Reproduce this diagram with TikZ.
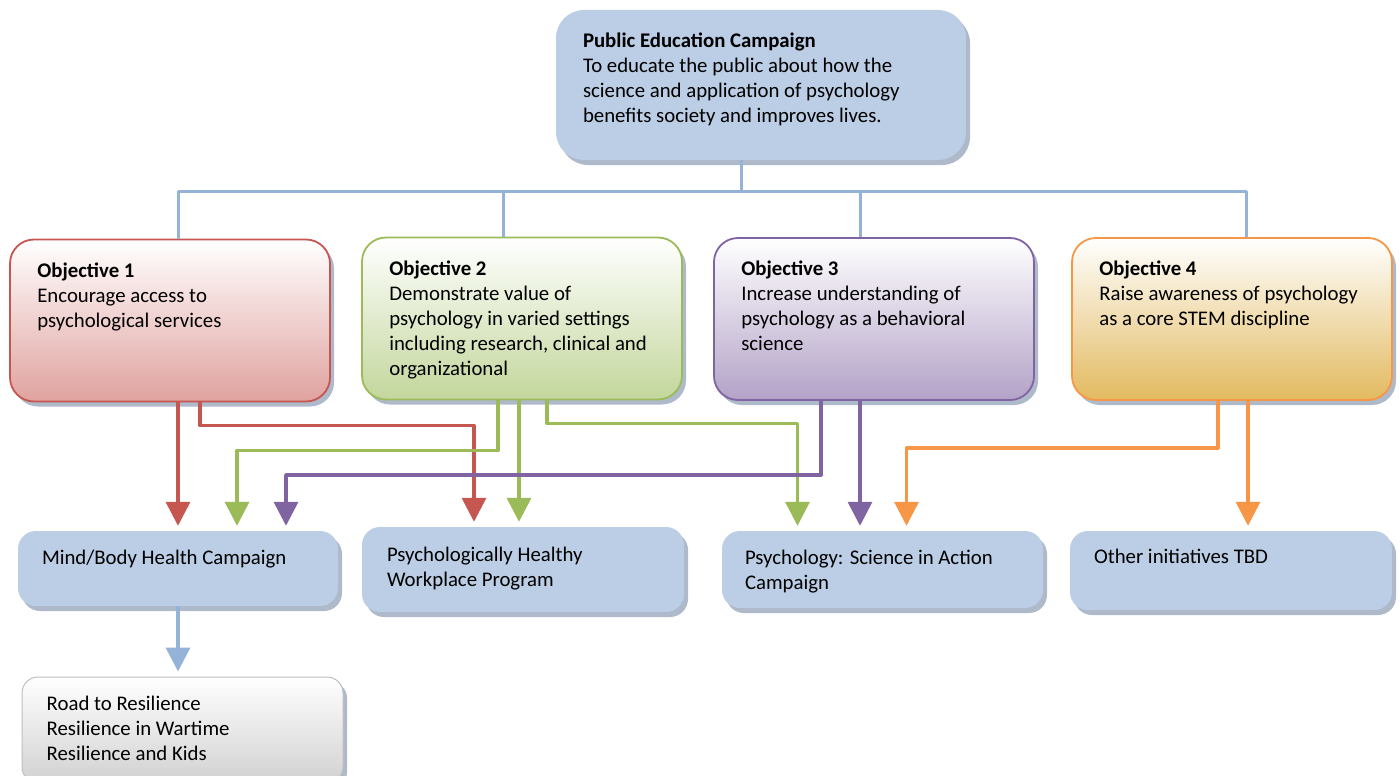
\documentclass[tikz,border=0pt]{standalone}
\usepackage{fontspec}
\setmainfont{Carlito}
\usetikzlibrary{arrows.meta,shadows}
\definecolor{boxblue}{RGB}{187,206,229}
\definecolor{treeblue}{RGB}{149,179,215}
\definecolor{shadowc}{RGB}{140,155,180}
\definecolor{ored}{RGB}{198,86,80}
\definecolor{ogreen}{RGB}{155,187,89}
\definecolor{opurple}{RGB}{128,100,162}
\definecolor{oorange}{RGB}{247,150,70}
\definecolor{ogold}{RGB}{226,186,96}
\begin{document}
\begin{tikzpicture}[x=1pt, y=-1pt, line join=round, font=\fontsize{20.8}{25}\selectfont,
	shd/.style={drop shadow={shadow xshift=4pt, shadow yshift=-5pt, fill=shadowc, opacity=.7}},
	bluebox/.style={shd, fill=boxblue, rounded corners=18pt, inner sep=0pt},
	objbox/.style 2 args={shd, draw=#1, line width=1.8pt, top color=white, bottom color=#2, rounded corners=24pt, minimum width=320pt, minimum height=162pt, inner sep=0pt},
	txt/.style={anchor=north west, inner sep=0pt, align=left},
	tree/.style={draw=treeblue, line width=3pt},
	arr/.style={draw=#1, line width=3.5pt, -{Triangle[width=24pt,length=24pt]}, shorten >=5pt}]
	\useasboundingbox (0,0) rectangle (1400,776);
	\node[bluebox, minimum width=410pt, minimum height=150pt, rounded corners=28pt] (top) at (761,85) {};
	\node[objbox={ored}{ored!55!white}] (o1) at (170,320.5) {};
	\node[objbox={ogreen}{ogreen!60!white}] (o2) at (522,318.5) {};
	\node[objbox={opurple}{opurple!60!white}] (o3) at (874,319) {};
	\node[objbox={oorange}{ogold}] (o4) at (1232,319) {};
	\node[bluebox, minimum width=320pt, minimum height=75pt] (b1) at (178,568.5) {};
	\node[bluebox, minimum width=322pt, minimum height=85pt] (b2) at (523,569.5) {};
	\node[bluebox, minimum width=321pt, minimum height=77pt] (b3) at (882.5,569.5) {};
	\node[bluebox, minimum width=322pt, minimum height=79pt] (b4) at (1231,570.5) {};
	\node[shd, draw=black!25, line width=1pt, top color=white, bottom color=black!18, rounded corners=16pt, minimum width=321pt, minimum height=106pt, inner sep=0pt] (b5) at (182.5,730) {};
	\node[txt] (t0) at ([shift={(27,23)}]top.north west) {\textbf{Public Education Campaign}\\To educate the public about how the\\science and application of psychology\\benefits society and improves lives.};
	\node[txt] (t1) at ([shift={(28,24)}]o1.north west) {\textbf{Objective 1}\\Encourage access to\\psychological services};
	\node[txt] (t2) at ([shift={(28,24)}]o2.north west) {\textbf{Objective 2}\\Demonstrate value of\\psychology in varied settings\\including research, clinical and\\organizational};
	\node[txt] (t3) at ([shift={(28,24)}]o3.north west) {\textbf{Objective 3}\\Increase understanding of\\psychology as a behavioral\\science};
	\node[txt] (t4) at ([shift={(28,24)}]o4.north west) {\textbf{Objective 4}\\Raise awareness of psychology\\as a core STEM discipline};
	\node[txt] (t5) at ([shift={(24,19)}]b1.north west) {Mind/Body Health Campaign};
	\node[txt] (t6) at ([shift={(25,20)}]b2.north west) {Psychologically Healthy\\Workplace Program};
	\node[txt] (t7) at ([shift={(23,19)}]b3.north west) {Psychology: Science in Action\\Campaign};
	\node[txt] (t8) at ([shift={(24,18)}]b4.north west) {Other initiatives TBD};
	\node[txt] (t9) at ([shift={(25,19)}]b5.north west) {Road to Resilience\\Resilience in Wartime\\Resilience and Kids};
	\draw[tree] ([xshift=-20pt]top.south) -- ++(0,31) coordinate (hub);
	\foreach \n/\s in {o1/8, o2/-19, o3/-14, o4/14}{\draw[tree] ([xshift=\s pt]\n.north) |- (hub);}
	\draw[arr=ored] (o1.south -| b1.north) -- (b1.north);
	\draw[arr=ored] ([xshift=30pt]o1.south) -- ++(0,23) -| ([xshift=-49pt]b2.north);
	\draw[arr=ogreen] ([xshift=-24pt]o2.south) -- ++(0,50) -| ([xshift=59pt]b1.north);
	\draw[arr=ogreen] ([xshift=-3pt]o2.south) coordinate (g2) -- (g2 |- b2.north);
	\draw[arr=ogreen] ([xshift=25pt]o2.south) -- ++(0,23) -| ([xshift=-85pt]b3.north);
	\draw[arr=opurple] ([xshift=-53pt]o3.south) -- ++(0,74) -| ([xshift=108pt]b1.north);
	\draw[arr=opurple] ([xshift=-14pt]o3.south) coordinate (p2) -- (p2 |- b3.north);
	\draw[arr=oorange] ([xshift=-14pt]o4.south) -- ++(0,47) -| ([xshift=24pt]b3.north);
	\draw[arr=oorange] ([xshift=16pt]o4.south) coordinate (r2) -- (r2 |- b4.north);
	\draw[arr=treeblue] (b1.south) -- (b1.south |- b5.north);
\end{tikzpicture}
\end{document}
